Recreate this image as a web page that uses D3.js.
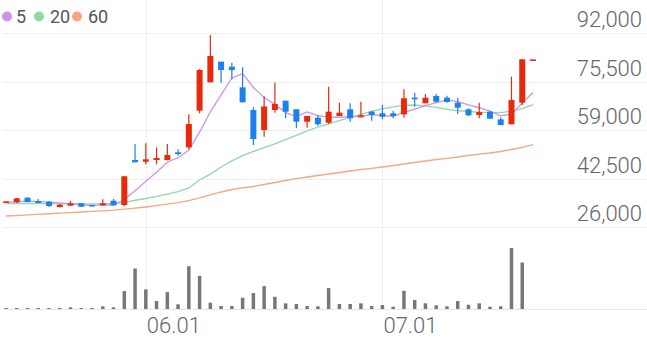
<!DOCTYPE html>
<html>
<head>
<meta charset="utf-8">
<script src="https://d3js.org/d3.v7.min.js"></script>
<style>
body { margin: 0; background: #fff; }
svg { display: block; font-family: Roboto, sans-serif; }
</style>
</head>
<body>
<svg width="647" height="337"></svg>
<script>
// datos diarios (precio y volumen)
var openP  = [34300,34400,35970,34850,34600,32800,33250,34060,33490,33400,34950,33490,48790,48220,48790,48790,51410,53110,65570,75230,82240,80540,73530,65800,59000,65800,68970,66040,61820,63180,61480,63760,66040,63320,65230,64680,64680,64340,69990,68080,70570,69990,68290,66040,64100,65230,62640,60940,68290,82700];
var highP  = [34800,35860,36100,35530,34850,33800,34850,34100,33600,35430,35530,43250,54240,54470,53070,54240,52430,64340,79700,91320,82240,81900,80330,66720,70500,75090,68970,66040,63760,64100,73730,68290,68080,68630,65570,67500,65570,72850,71690,71250,71250,70670,69990,66380,68290,65570,63320,77130,83050,83000];
var lowP   = [34200,34170,34400,34100,32800,32640,33150,32800,32950,33300,33200,33150,48000,47330,47330,48620,50260,52430,64680,75230,75090,76250,68420,53900,56700,64890,62980,59580,59780,60460,61040,63760,61820,63320,62160,62640,62980,63180,66930,68080,68290,68290,64440,63760,62980,62750,60600,60940,67500,82700];
var closeP = [34700,35760,34500,34170,33150,33590,34060,32900,33050,34060,33400,43250,48000,49030,49470,50500,50840,61040,79410,84180,79410,79410,68420,55940,67000,67850,65230,61820,63760,60940,65230,64890,62980,64000,64100,63520,63760,69780,69440,69990,68630,68530,66590,64000,65120,62850,60700,69210,83050,83000];
var volume = [70,70,70,70,70,30,170,30,30,270,170,1800,4070,1970,800,1700,470,4300,3330,630,300,300,1130,1600,2300,1230,570,500,300,270,2100,500,500,570,300,400,230,1830,900,570,370,270,800,430,570,230,270,6130,4670,0];

// medias moviles
var ma5  = [34400,34600,34800,34600,34460,34230,33890,33570,33350,33530,33490,35330,38350,41550,44630,48050,49570,52180,58250,65190,70980,76690,78170,73470,70040,67720,64890,63570,65130,63920,63400,63330,63560,63610,64240,63900,63670,65030,66120,67300,68320,69270,68640,67550,66570,65420,63850,64380,68190,71760];
var ma20 = [34000,34000,34000,34000,33950,33900,33900,33900,33900,33900,34000,34300,35100,35700,36400,37200,38000,39300,42000,44000,46400,48500,50300,51700,53000,54300,55700,57200,58700,60000,61100,62200,63300,64300,65300,66200,66900,67400,67500,67200,66700,66000,65600,65300,65100,65000,64900,65400,66300,67600];
var ma60 = [29740,29900,30100,30300,30500,30700,30900,31100,31300,31500,31750,32050,32400,32800,33300,33800,34300,35000,35870,36890,37910,38760,39340,39780,40460,41140,41820,42430,43010,43520,44030,44540,45050,45560,45970,46410,46920,47430,47940,48450,48960,49370,49810,50320,50770,51180,51690,52370,53110,54000];

var priceTicks = [92000, 75500, 59000, 42500, 26000];
var dateTicks = [13, 35];
var dateLabels = ["06.01", "07.01"];
var maNames = ["5", "20", "60"];
var maColors = ["#cf92ec", "#8fd9a4", "#f7a680"];

var svg = d3.select("svg"),
  width = +svg.attr("width"),
  height = +svg.attr("height");

var upColor = "#e8290b", downColor = "#1c80ee";

var x = d3.scaleLinear().domain([0, closeP.length - 1]).range([6, 533]);
var y = d3.scaleLinear().domain([26000, 92000]).range([227, 33]);
var yVol = d3.scaleLinear().domain([0, d3.max(volume)]).range([309, 248]);

// rejilla horizontal + etiquetas de precio
svg.selectAll(".grid").data(priceTicks).enter().append("line")
  .attr("x1", 3).attr("x2", width)
  .attr("y1", function(d) { return Math.round(y(d)) + 0.5; })
  .attr("y2", function(d) { return Math.round(y(d)) + 0.5; })
  .attr("stroke", "#efefef");

svg.selectAll(".plabel").data(priceTicks).enter().append("text")
  .attr("x", 642)
  .attr("y", function(d) { return y(d) - 6; })
  .attr("text-anchor", "end")
  .attr("font-size", 22)
  .attr("font-weight", 300)
  .attr("fill", "#666")
  .text(d3.format(","));

// rejilla vertical + fechas
svg.selectAll(".vgrid").data(dateTicks).enter().append("line")
  .attr("x1", function(d) { return Math.round(x(d)) + 0.5; })
  .attr("x2", function(d) { return Math.round(x(d)) + 0.5; })
  .attr("y1", 0).attr("y2", 309)
  .attr("stroke", "#efefef");

svg.selectAll(".dlabel").data(dateTicks).enter().append("text")
  .attr("x", function(d) { return x(d) + 1; })
  .attr("y", 333)
  .attr("font-size", 22)
  .attr("font-weight", 300)
  .attr("fill", "#666")
  .text(function(d, i) { return dateLabels[i]; });

// linea base del volumen
svg.append("line")
  .attr("x1", 3).attr("x2", width)
  .attr("y1", 309.5).attr("y2", 309.5)
  .attr("stroke", "#e6e6e6");

// volumen
svg.selectAll(".vol").data(volume).enter().append("rect")
  .attr("x", function(d, i) { return x(i) - 1.75; })
  .attr("width", 3.5)
  .attr("y", function(d) { return d > 0 ? Math.min(yVol(d), 308) : 309; })
  .attr("height", function(d) { return d > 0 ? Math.max(1, 309 - yVol(d)) : 0; })
  .attr("fill", "#777");

// medias moviles
var line = d3.line()
  .x(function(d, i) { return x(i); })
  .y(function(d) { return y(d); });

[ma60, ma20, ma5].forEach(function(s, k) {
  svg.append("path")
    .attr("d", line(s))
    .attr("fill", "none")
    .attr("stroke", maColors[2 - k])
    .attr("stroke-width", 1.3);
});

// velas
var idx = d3.range(closeP.length);
svg.selectAll(".wick").data(idx).enter().append("line")
  .attr("x1", function(i) { return x(i); })
  .attr("x2", function(i) { return x(i); })
  .attr("y1", function(i) { return y(highP[i]); })
  .attr("y2", function(i) { return y(lowP[i]); })
  .attr("stroke", function(i) { return closeP[i] >= openP[i] ? upColor : downColor; })
  .attr("stroke-width", 1.2);

svg.selectAll(".body").data(idx).enter().append("rect")
  .attr("x", function(i) { return x(i) - 3; })
  .attr("width", 6)
  .attr("y", function(i) { return y(Math.max(openP[i], closeP[i])); })
  .attr("height", function(i) { return Math.max(1.5, Math.abs(y(openP[i]) - y(closeP[i]))); })
  .attr("fill", function(i) { return closeP[i] >= openP[i] ? upColor : downColor; });

// leyenda
var lx = [7, 39, 77];
var tx = [16, 50, 88];
maNames.forEach(function(n, k) {
  svg.append("circle").attr("cx", lx[k]).attr("cy", 16.5).attr("r", 5).attr("fill", maColors[k]);
  svg.append("text").attr("x", tx[k]).attr("y", 23).attr("font-size", 18)
    .attr("fill", "#555").text(n);
});
</script>
</body>
</html>
